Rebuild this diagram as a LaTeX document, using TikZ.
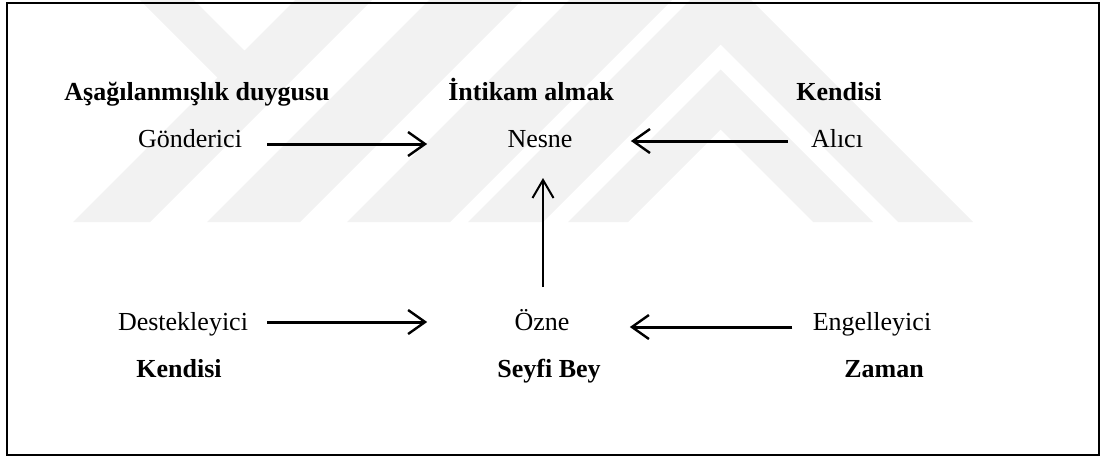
\documentclass[tikz,border=0pt]{standalone}
\usepackage{fontspec}
\setmainfont{Liberation Serif}
\usetikzlibrary{arrows.meta,calc}
\begin{document}
\begin{tikzpicture}[x=0.5pt,y=-0.5pt,
  lbl/.style={inner sep=0pt,anchor=base,font=\fontsize{13}{15}\selectfont},
  blbl/.style={inner sep=0pt,anchor=base,font=\fontsize{13}{15}\selectfont\bfseries},
  arr/.style={line width=1.5pt,-{Straight Barb[length=8.5pt,width=12pt,line width=1.2pt]}},
  varr/.style={line width=1pt,-{Straight Barb[length=9pt,width=10.5pt]}},
  wm/.style={fill=black!5,draw=none}]
\useasboundingbox (0,0) rectangle (1106,457);
% watermark
\fill[wm] (140,0) -- (194,0) -- (244.5,50.5) -- (295,0) -- (372,0) -- (150,222) -- (73,222) -- (217.5,77.5) -- cycle;
\fill[wm] (429,0) -- (522,0) -- (300,222) -- (207,222) -- cycle;
\fill[wm] (569,0) -- (672,0) -- (450,222) -- (347,222) -- cycle;
\fill[wm] (690,0) -- (751,0) -- (973,222) -- (898,222) -- (720.5,44.5) -- (543,222) -- (468,222) -- cycle;
\fill[wm] (720.5,69.5) -- (873,222) -- (813,222) -- (720.5,129.5) -- (628,222) -- (568,222) -- cycle;
% frame
\draw[line width=1.1pt] (7,3) rectangle (1099,455);
% labels
\node[blbl] (asag) at (197,100) {Aşağılanmışlık duygusu};
\node[blbl] (intikam) at (531,100) {İntikam almak};
\node[blbl] (kend1) at (839,100) {Kendisi};
\node[lbl] (gond) at (190,147) {Gönderici};
\node[lbl] (nesne) at (540,147) {Nesne};
\node[lbl] (alici) at (837,147) {Alıcı};
\node[lbl] (dest) at (183,330) {Destekleyici};
\node[lbl] (ozne) at (542,330) {Özne};
\node[lbl] (engel) at (872,330) {Engelleyici};
\node[blbl] (kend2) at (179,377) {Kendisi};
\node[blbl] (seyfi) at (549,377) {Seyfi Bey};
\node[blbl] (zaman) at (884,377) {Zaman};
% connectors
\draw[arr] ($(gond.base east)+(25,-3)$) -- ($(nesne.base west)+(-80,-3)$);
\draw[arr] ($(alici.base west)+(-23,-6)$) -- ($(nesne.base east)+(58,-6)$);
\draw[arr] ($(dest.base east)+(19,-8)$) -- ($(ozne.base west)+(-87,-8)$);
\draw[arr] ($(engel.base west)+(-20,-3)$) -- ($(ozne.base east)+(60,-3)$);
\draw[varr] ($(ozne.base)+(1,-43)$) -- ($(ozne.base |- nesne.base)+(1,31)$);
\end{tikzpicture}
\end{document}
